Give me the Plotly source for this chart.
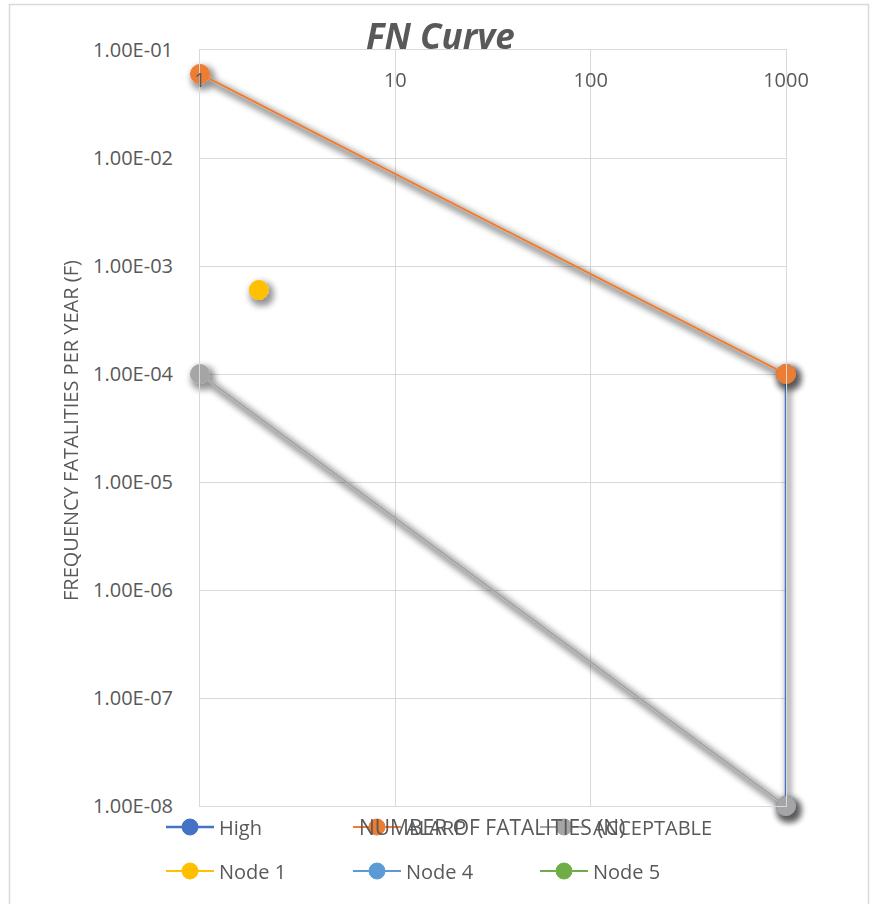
import plotly.graph_objects as go

# FN curve data: number of fatalities (N) vs frequency per year (F)
high_n = [1000, 1000]
high_f = [1e-4, 1e-8]

alarp_n = [1, 1000]
alarp_f = [6e-2, 1e-4]

acceptable_n = [1, 1000]
acceptable_f = [1e-4, 1e-8]

node1_n = [2]
node1_f = [6e-4]

node4_n = [None]
node4_f = [None]

node5_n = [None]
node5_f = [None]

x_tickvals = [1, 10, 100, 1000]
x_ticktext = ["1", "10", "100", "1000"]
y_tickvals = [1e-1, 1e-2, 1e-3, 1e-4, 1e-5, 1e-6, 1e-7, 1e-8]
y_ticktext = ["1.00E-01", "1.00E-02", "1.00E-03", "1.00E-04",
              "1.00E-05", "1.00E-06", "1.00E-07", "1.00E-08"]

FONT = "Open Sans"
TXT = "#595959"
GRID = "#D9D9D9"

W, H = 870, 904
L, R, T, B = 200, 84, 50, 98
PW, PH = W - L - R, H - T - B


def px_x(px):
    return (px - L) / PW


def px_y(py):
    return (H - B - py) / PH


fig = go.Figure()

series = [
    ("High", high_n, high_f, "#4472C4", 2.5, "legend"),
    ("ALARP", alarp_n, alarp_f, "#ED7D31", 2, "legend"),
    ("ACCEPTABLE", acceptable_n, acceptable_f, "#A5A5A5", 2, "legend"),
    ("Node 1", node1_n, node1_f, "#FFC000", 2, "legend2"),
    ("Node 4", node4_n, node4_f, "#5B9BD5", 2, "legend2"),
    ("Node 5", node5_n, node5_f, "#70AD47", 2, "legend2"),
]

for name, xs, ys, col, lw, lg in series:
    fig.add_trace(go.Scatter(
        x=xs, y=ys, name=name, mode="lines+markers",
        line=dict(color=col, width=lw),
        marker=dict(color=col, size=19, line=dict(color=col, width=1)),
        legend=lg, hoverinfo="skip", cliponaxis=False,
    ))

fig.update_xaxes(
    type="log", range=[0, 3], side="top",
    tickvals=x_tickvals, ticktext=x_ticktext,
    ticklabelposition="inside", ticklabeloverflow="allow",
    ticklabelstandoff=24, ticks="",
    tickfont=dict(family=FONT, size=20, color=TXT),
    showgrid=True, gridcolor=GRID, gridwidth=1,
    showline=True, linecolor=GRID, linewidth=1, mirror=True,
    zeroline=False,
)
fig.update_yaxes(
    type="log", range=[-8, -1],
    tickvals=y_tickvals, ticktext=y_ticktext, ticks="",
    ticklabelstandoff=22,
    tickfont=dict(family=FONT, size=20, color=TXT),
    showgrid=True, gridcolor=GRID, gridwidth=1,
    showline=True, linecolor=GRID, linewidth=1, mirror=True,
    zeroline=False,
)

legend_common = dict(
    orientation="h", xanchor="left", yanchor="middle",
    font=dict(family=FONT, size=20, color=TXT),
    bgcolor="rgba(0,0,0,0)", entrywidth=124, entrywidthmode="pixels",
    itemwidth=48,
)

fig.update_layout(
    width=W, height=H,
    margin=dict(l=L, r=R, t=T, b=B),
    paper_bgcolor="white", plot_bgcolor="white",
    showlegend=True,
    legend=dict(x=px_x(161), y=px_y(827), **legend_common),
    legend2=dict(x=px_x(161), y=px_y(871), **legend_common),
    shapes=[dict(
        type="rect", xref="paper", yref="paper",
        x0=px_x(9.5), x1=px_x(868.5), y0=px_y(1000), y1=px_y(4.5),
        line=dict(color=GRID, width=1.5), layer="below",
    )],
    annotations=[
        dict(text="<b><i>FN Curve</i></b>", xref="paper", yref="paper",
             x=px_x(440), y=px_y(36), xanchor="center", yanchor="middle",
             showarrow=False, font=dict(family=FONT, size=35, color=TXT)),
        dict(text="FREQUENCY FATALITIES PER YEAR (F)", xref="paper", yref="paper",
             x=px_x(70), y=px_y(431), xanchor="center", yanchor="middle",
             textangle=-90, showarrow=False,
             font=dict(family=FONT, size=20, color=TXT)),
        dict(text="NUMBER OF FATALITIES (N)", xref="paper", yref="paper",
             x=px_x(492), y=px_y(827), xanchor="center", yanchor="middle",
             showarrow=False, font=dict(family=FONT, size=21, color=TXT)),
    ],
)

# soft drop shadow under the plotted series (SVG filter on each trace group)
shadow_js = """
(function(){
  var gd = document.querySelector('.plotly-graph-div');
  var ns = 'http://www.w3.org/2000/svg';
  function addShadow(){
    var svg = gd.querySelector('svg.main-svg');
    if(!svg) return;
    if(!document.getElementById('fnshadow')){
      var defs = svg.querySelector('defs');
      if(!defs){ defs = document.createElementNS(ns, 'defs'); svg.insertBefore(defs, svg.firstChild); }
      var f = document.createElementNS(ns, 'filter');
      f.setAttribute('id', 'fnshadow');
      f.setAttribute('filterUnits', 'userSpaceOnUse');
      f.setAttribute('x', '-2000'); f.setAttribute('y', '-2000');
      f.setAttribute('width', '6000'); f.setAttribute('height', '6000');
      f.innerHTML = '<feMorphology in="SourceAlpha" operator="dilate" radius="2" result="fat"/>' +
        '<feGaussianBlur in="fat" stdDeviation="3"/>' +
        '<feOffset dx="3" dy="4" result="off"/>' +
        '<feComponentTransfer><feFuncA type="linear" slope="0.42"/></feComponentTransfer>' +
        '<feMerge><feMergeNode/><feMergeNode in="SourceGraphic"/></feMerge>';
      defs.appendChild(f);
    }
    gd.querySelectorAll('.scatterlayer .trace').forEach(function(t){
      t.setAttribute('filter', 'url(#fnshadow)');
    });
  }
  addShadow();
  if(gd.on){ gd.on('plotly_afterplot', addShadow); }
  setTimeout(addShadow, 50);
})();
"""

fig.write_html("out.html", post_script=shadow_js)
